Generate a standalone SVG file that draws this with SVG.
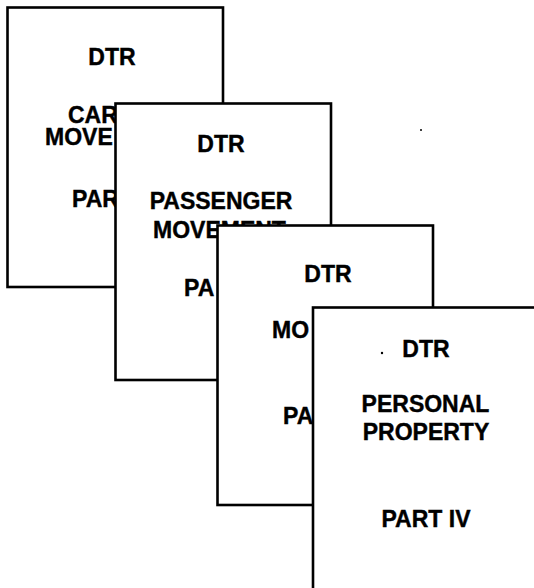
<svg xmlns="http://www.w3.org/2000/svg" width="534" height="588" viewBox="0 0 534 588">
<style>
.card{fill:#fff;stroke:#000;stroke-width:2.6}
.t{font-family:"Liberation Sans",Arial,sans-serif;font-weight:bold;font-size:23px;fill:#000;stroke:#000;stroke-width:0.4}
.m{text-anchor:middle}
</style>
<rect width="534" height="588" fill="#fff"/>
<g id="card1">
<rect class="card" x="7.5" y="7.5" width="215.5" height="279.5"/>
<text class="t m" x="112" y="65">DTR</text>
<text class="t" x="68" y="123">CAR</text>
<text class="t" x="45" y="145">MOVE</text>
<text class="t" x="72" y="207">PAR</text>
</g>
<g id="card2">
<rect class="card" x="115.5" y="103.5" width="215.5" height="276.5"/>
<text class="t m" x="221" y="152">DTR</text>
<text class="t m" x="221" y="209">PASSENGER</text>
<text class="t" x="153" y="238">MOVEMENT</text>
<text class="t" x="184" y="296">PA</text>
</g>
<g id="card3">
<rect class="card" x="217.5" y="225.5" width="215.5" height="279.5"/>
<text class="t m" x="328" y="282">DTR</text>
<text class="t" x="272" y="338">MO</text>
<text class="t" x="283" y="424">PA</text>
</g>
<g id="card4">
<rect class="card" x="313" y="307.5" width="260" height="320"/>
<text class="t m" x="426" y="357">DTR</text>
<text class="t m" x="425.5" y="412">PERSONAL</text>
<text class="t m" x="426" y="440">PROPERTY</text>
<text class="t m" x="426" y="527">PART IV</text>
<circle cx="382" cy="353" r="1.2" fill="#000"/>
</g>
<g id="connectors"></g>
<circle cx="421" cy="130" r="1" fill="#000"/>
</svg>
